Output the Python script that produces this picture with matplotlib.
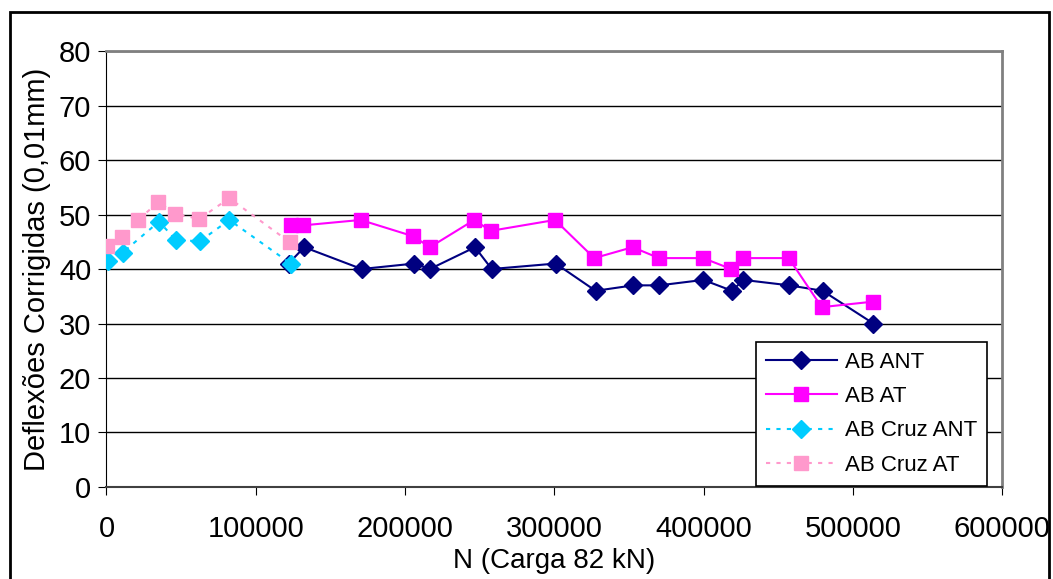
import matplotlib.pyplot as plt
import matplotlib.patches as patches
from matplotlib.transforms import Bbox

plt.rcParams['font.family'] = ['Liberation Sans', 'DejaVu Sans']

#---------------------------     data     ---------------------------#

n_ab_ant = [122000, 132500, 171000, 206300, 216700, 246900, 258100, 301000, 327700,
            353000, 370400, 399900, 419100, 426700, 457500, 479800, 513800]
d_ab_ant = [41, 44, 40, 41, 40, 44, 40, 41, 36, 37, 37, 38, 36, 38, 37, 36, 30]

n_ab_at = [123600, 131400, 170300, 205600, 216700, 246400, 257400, 300500, 326800,
           352500, 370200, 399700, 418600, 426200, 457100, 479200, 513300]
d_ab_at = [48, 48, 49, 46, 44, 49, 47, 49, 42, 44, 42, 42, 40, 42, 42, 33, 34]

n_cruz_ant = [1000, 10800, 35200, 46600, 62600, 82300, 123400]
d_cruz_ant = [41.4, 43, 48.7, 45.3, 45.1, 49, 41]

n_cruz_at = [500, 10600, 21300, 34700, 45900, 62200, 82300, 122900]
d_cruz_at = [44.3, 45.8, 49, 52.3, 50.1, 49.2, 53, 44.9]

#---------------------------     plot     ---------------------------#

fig = plt.figure(figsize=(10.53, 5.79), dpi=100)
ax = fig.add_axes([0.1011, 0.1589, 0.8505, 0.753])

ax.plot(n_ab_ant, d_ab_ant, color='#000080', lw=1.5, marker='D', ms=9, label='AB ANT', zorder=3)
ax.plot(n_ab_at, d_ab_at, color='#FF00FF', lw=1.5, marker='s', ms=10, label='AB AT', zorder=3)
ax.plot(n_cruz_ant, d_cruz_ant, color='#00CCFF', lw=1.5, ls=(0, (2, 3)), marker='D', ms=9,
        label='AB Cruz ANT', zorder=4)
ax.plot(n_cruz_at, d_cruz_at, color='#FF99CC', lw=1.5, ls=(0, (2, 3)), marker='s', ms=10,
        label='AB Cruz AT', zorder=4)

ax.set_xlim(0, 600000)
ax.set_ylim(0, 80)
ax.set_xticks(range(0, 600001, 100000))
ax.set_yticks(range(0, 81, 10))
ax.yaxis.grid(True, color='black', lw=1)
ax.set_axisbelow(True)
ax.tick_params(labelsize=21, direction='out', length=6, color='black')
ax.tick_params(axis='x', pad=14)
ax.tick_params(axis='y', pad=5)

for s in ['top', 'right']:
    ax.spines[s].set_color('#808080')
    ax.spines[s].set_linewidth(2)
ax.spines['left'].set_color('black')
ax.spines['bottom'].set_color('#404040')
ax.spines['bottom'].set_linewidth(1.5)

ax.set_xlabel('N (Carga 82 kN)', fontsize=20, labelpad=4)

# y label, clipped at the top like the original
ylab = fig.text(37 / 1053, 1 - 471 / 579, 'Deflexões Corrigidas (0,01mm)', fontsize=21,
                rotation=90, ha='center', va='bottom')
ylab.set_clip_box(Bbox.from_extents(0, 0, 1053, 579 - 38))
ylab.set_clip_on(True)

leg = ax.legend(loc='lower right', bbox_to_anchor=(0.983, 0.003), fontsize=16,
                fancybox=False, framealpha=1, edgecolor='black', borderaxespad=0,
                handlelength=3.2, handletextpad=0.35, labelspacing=0.6, borderpad=0.45)
leg.get_frame().set_linewidth(1.2)

# outer chart frame
fig.patches.append(patches.Rectangle((10 / 1053, -0.02), 1039 / 1053, 1 - 12 / 579 + 0.02,
                                     transform=fig.transFigure, fill=False,
                                     edgecolor='black', lw=2))

plt.savefig('out.png', dpi=100)
